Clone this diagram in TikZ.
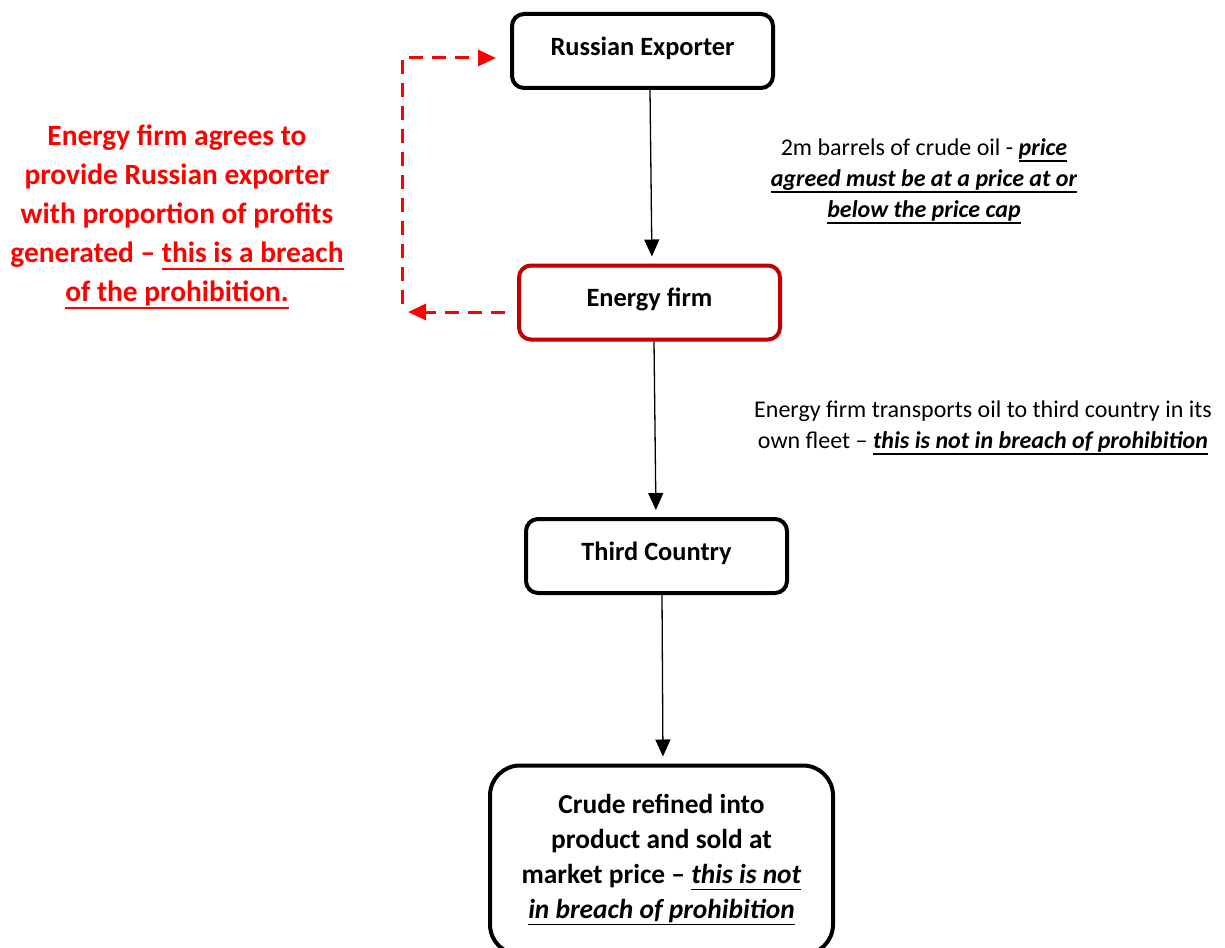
\documentclass[tikz,border=0pt]{standalone}
\usepackage{fontspec}
\setmainfont{Carlito}
\usetikzlibrary{arrows.meta,positioning}
\definecolor{firmred}{HTML}{C00000}
\definecolor{notered}{HTML}{FF0000}
\newcommand{\uln}[1]{\leavevmode\vtop{\hbox{\vphantom{p}#1}\kern0.4pt\hrule height 0.8pt}}
\newcommand{\bul}[1]{\uln{\textbf{\textit{#1}}}}

\begin{document}
\begin{tikzpicture}[x=0.5pt,y=-0.5pt,on grid,>={Triangle[width=7.5pt,length=8.5pt]},
  party/.style={draw,line width=2pt,rounded corners=6pt,minimum width=130.5pt,minimum height=37pt,
    text depth=5pt,font=\fontsize{13.2}{16}\selectfont\bfseries},
  flow/.style={->,line width=0.65pt,shorten >=3.5pt},
  breach/.style={-{Triangle[width=8pt,length=9pt]},notered,line width=1.5pt,dash pattern=on 7pt off 4.5pt},
  note/.style={align=center,font=\fontsize{12}{15.5}\selectfont}]
  \useasboundingbox (0,0) rectangle (1225,947);

  \node[party] (re) at (642.5,51) {Russian Exporter};
  \node[party,draw=firmred] (ef) [below=125.75pt of re,xshift=3.5pt] {Energy firm};
  \node[party] (tc) [below=126.75pt of ef,xshift=3.5pt] {Third Country};
  \node[party,text depth=,rounded corners=15pt,minimum width=171.5pt,minimum height=94.5pt,align=center,
    font=\fontsize{13.7}{17.5}\selectfont\bfseries] (cr) [below=152pt of tc,xshift=2.5pt]
    {Crude refined into\\ product and sold at\\ market price -- \bul{this is not}\\ \bul{in breach of prohibition}};

  \node[note] (price) at (924,181) {2m barrels of crude oil - \bul{price}\\ \bul{agreed must be at a price at or}\\ \bul{below the price cap}};
  \node[note] (fleet) at (983,428) {Energy firm transports oil to third country in its\\ own fleet -- \bul{this is not in breach of prohibition}};
  \node[align=center,text=notered,font=\fontsize{14.7}{19.5}\selectfont\bfseries] (share) at (177,217)
    {Energy firm agrees to\\ provide Russian exporter\\ with proportion of profits\\ generated -- \uln{this is a breach}\\ \uln{of the prohibition.}};

  \draw[flow] ([xshift=3.75pt]re.south) -- ([xshift=1.25pt]ef.north);
  \draw[flow] ([xshift=2.25pt]ef.south) -- ([xshift=-0.25pt]tc.north);
  \draw[flow] ([xshift=2.75pt]tc.south) -- ([xshift=0.75pt]cr.north);

  % profit share goes back to the exporter
  \coordinate (back) at (408,312);
  \coordinate (up) at (402,304);
  \draw[breach,shorten <=6pt] ([yshift=-4.75pt]ef.west) -- (back);
  \draw[breach] (up) |- ([xshift=-7pt,yshift=-3.5pt]re.west);
\end{tikzpicture}
\end{document}
